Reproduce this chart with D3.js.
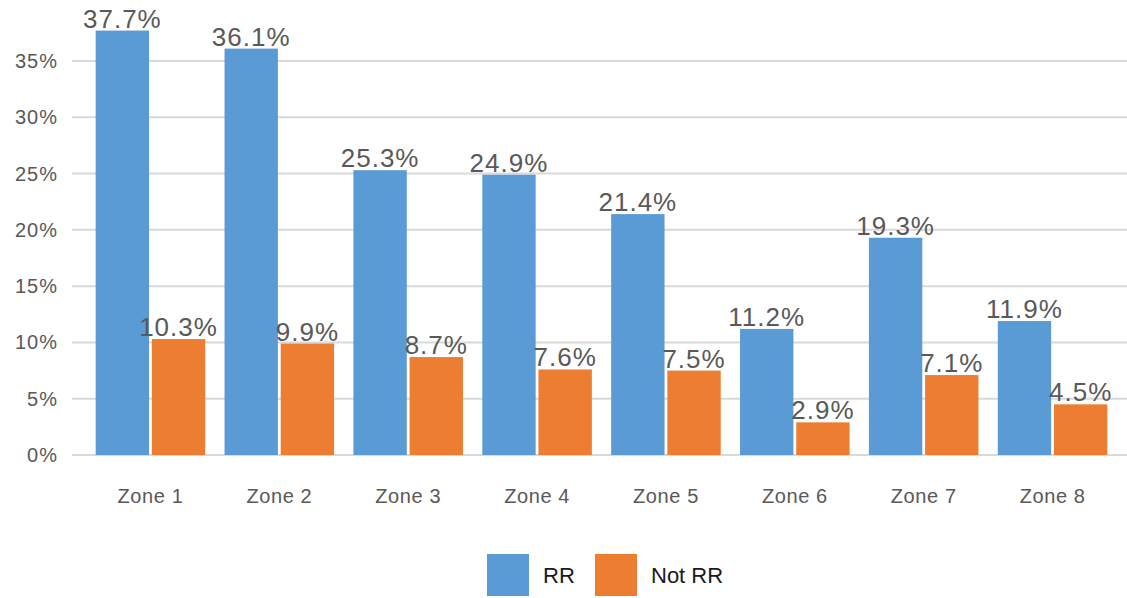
<!DOCTYPE html>
<html>
<head>
<meta charset="utf-8">
<script src="https://cdn.jsdelivr.net/npm/d3@7"></script>
<style>
  body { margin: 0; background: #fff; }
  text { font-family: "Liberation Sans", Arial, sans-serif; }
</style>
</head>
<body>
<script>
// chart data
var zones = ["Zone 1", "Zone 2", "Zone 3", "Zone 4", "Zone 5", "Zone 6", "Zone 7", "Zone 8"];
var seriesNames = ["RR", "Not RR"];
var rrValues = [37.7, 36.1, 25.3, 24.9, 21.4, 11.2, 19.3, 11.9];
var notRrValues = [10.3, 9.9, 8.7, 7.6, 7.5, 2.9, 7.1, 4.5];
var yTicks = [0, 5, 10, 15, 20, 25, 30, 35];
var colors = ["#5B9BD5", "#ED7D31"];

var width = 1127, height = 598;

var svg = d3.select("body")
    .append("svg")
    .attr("width", width)
    .attr("height", height);

var x0 = d3.scaleBand()
    .domain(zones)
    .range([86, 1117])
    .paddingInner(0.15)
    .paddingOuter(0.075);

var x1 = d3.scaleBand()
    .domain(seriesNames)
    .range([0, x0.bandwidth()])
    .paddingInner(0.05);

var y = d3.scaleLinear()
    .domain([0, 40])
    .range([455, 4.7]);

// gridlines
svg.append("g")
    .selectAll("line")
    .data(yTicks)
    .enter().append("line")
    .attr("x1", 72)
    .attr("x2", width)
    .attr("y1", function (d) { return y(d); })
    .attr("y2", function (d) { return y(d); })
    .style("stroke", "#d9d9d9")
    .style("stroke-width", 2);

// y tick labels
svg.append("g")
    .selectAll("text")
    .data(yTicks)
    .enter().append("text")
    .attr("x", 58)
    .attr("y", function (d) { return y(d); })
    .attr("dy", "0.35em")
    .attr("text-anchor", "end")
    .style("font-size", "20px")
    .style("letter-spacing", "1px")
    .style("fill", "#595959")
    .text(function (d) { return d + "%"; });

var rows = zones.map(function (z, i) {
    return { zone: z, values: [rrValues[i], notRrValues[i]] };
});

var groups = svg.append("g")
    .selectAll("g")
    .data(rows)
    .enter().append("g")
    .attr("transform", function (d) { return "translate(" + x0(d.zone) + ",0)"; });

groups.selectAll("rect")
    .data(function (d) {
        return d.values.map(function (v, j) { return { key: seriesNames[j], value: v, idx: j }; });
    })
    .enter().append("rect")
    .attr("x", function (d) { return x1(d.key); })
    .attr("y", function (d) { return y(d.value); })
    .attr("width", x1.bandwidth())
    .attr("height", function (d) { return y(0) - y(d.value); })
    .style("fill", function (d) { return colors[d.idx]; });

// value labels
groups.selectAll("text.val")
    .data(function (d) {
        return d.values.map(function (v, j) { return { key: seriesNames[j], value: v }; });
    })
    .enter().append("text")
    .attr("class", "val")
    .attr("x", function (d) { return x1(d.key) + x1.bandwidth() / 2; })
    .attr("y", function (d) { return y(d.value) - 3; })
    .attr("text-anchor", "middle")
    .style("font-size", "26px")
    .style("letter-spacing", "1px")
    .style("fill", "#595959")
    .text(function (d) { return d.value.toFixed(1) + "%"; });

// zone labels
svg.append("g")
    .selectAll("text")
    .data(zones)
    .enter().append("text")
    .attr("x", function (d) { return x0(d) + x0.bandwidth() / 2; })
    .attr("y", 503)
    .attr("text-anchor", "middle")
    .style("font-size", "20px")
    .style("letter-spacing", "0.6px")
    .style("fill", "#595959")
    .text(function (d) { return d; });

// legend
var legendX = [487, 595];
var legend = svg.append("g")
    .selectAll("g")
    .data(seriesNames)
    .enter().append("g")
    .attr("transform", function (d, i) { return "translate(" + legendX[i] + ",554)"; });

legend.append("rect")
    .attr("width", 42)
    .attr("height", 42)
    .style("fill", function (d, i) { return colors[i]; });

legend.append("text")
    .attr("x", 56)
    .attr("y", 21)
    .attr("dy", "0.35em")
    .style("font-size", "22px")
    .style("fill", "#1a1a1a")
    .text(function (d) { return d; });
</script>
</body>
</html>
